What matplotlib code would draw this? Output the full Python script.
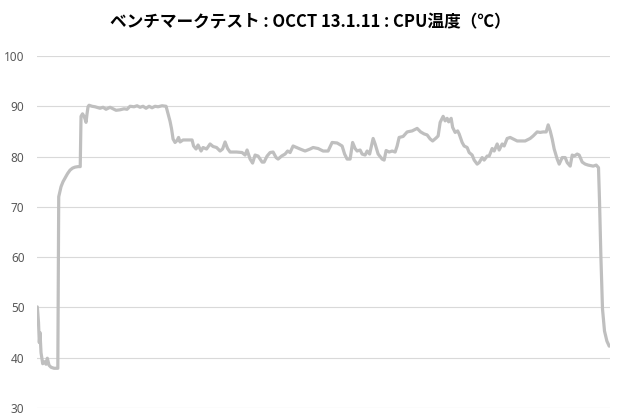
import matplotlib
matplotlib.use('Agg')
import matplotlib.pyplot as plt

# 経過時間（任意単位）と CPU 温度（℃）
elapsed = [
    0.3, 1.5, 2.3, 3.0, 4.0, 5.7, 7.5, 9.0, 10.3, 12.0,
    14.0, 17.0, 20.8, 21.7, 24.0, 26.0, 28.0, 30.5, 33.0, 35.5,
    38.0, 41.0, 43.2, 44.0, 45.5, 47.0, 48.0, 49.0, 50.0, 51.0,
    52, 55, 58, 63, 66, 69, 73, 76, 79, 83,
    87, 90, 93, 97, 100, 103, 106, 109, 112, 115,
    118, 121, 125, 129, 131, 133, 134.5, 136, 138, 140,
    141.5, 143, 146, 155, 156.5, 159, 161, 164, 166, 169.5,
    173, 176, 179.5, 183, 185.5, 188, 190.5, 193, 199.5, 205,
    208, 210, 213, 215.5, 218, 221, 225, 227, 230, 233,
    236, 239, 241, 244.5, 248, 250.5, 253, 256, 259.5, 263,
    268, 273, 276, 281, 286, 291, 295, 300, 305, 307.5,
    310, 313, 315.5, 318, 320, 323, 325, 328, 330, 332.5,
    336, 338, 341, 345, 347, 349, 352, 355, 358, 360,
    362, 366, 370, 375, 377, 380, 383.5, 387, 390, 393,
    395.5, 399, 401, 403, 406, 408, 410, 411.5, 414, 415.5,
    418, 420.5, 422, 425, 427, 430, 432, 435, 437, 440,
    442, 445, 447, 450, 452, 455, 457, 460, 462, 465,
    467, 470, 473, 476, 480, 483, 488, 493, 496, 500,
    503, 506, 509, 511, 513, 515, 517, 520, 522, 525,
    528, 530, 533, 535, 537, 540, 542, 545, 548, 551,
    556, 559, 561.3, 562.3, 563.7, 565.3, 567.3, 569.7, 572,
]
cpu_temp = [
    50.1, 47.0, 43.0, 45.0, 41.0, 38.8, 39.2, 38.7, 39.9, 38.5,
    38.1, 37.9, 37.9, 72.0, 74.0, 75.0, 75.7, 76.6, 77.3, 77.7,
    77.9, 78.0, 78.0, 88.0, 88.5, 88.0, 87.5, 86.8, 88.5, 89.9,
    90.2, 90.0, 89.9, 89.6, 89.8, 89.4, 89.8, 89.5, 89.2, 89.3,
    89.5, 89.4, 90.0, 89.9, 90.1, 89.8, 90.0, 89.6, 90.0, 89.7,
    90.0, 89.9, 90.1, 90.0, 88.5, 87.0, 85.5, 83.5, 82.8, 83.2,
    83.8, 82.9, 83.3, 83.3, 82.1, 81.5, 82.3, 81.1, 81.8, 81.5,
    82.5, 82.0, 81.8, 81.1, 81.5, 82.9, 81.6, 80.9, 80.9, 80.8,
    80.3, 81.3, 79.5, 78.7, 80.3, 80.1, 78.9, 78.9, 80.1, 80.8,
    80.9, 79.8, 79.5, 80.1, 80.5, 81.1, 80.8, 82.1, 81.8, 81.5,
    81.1, 81.5, 81.8, 81.6, 81.1, 81.1, 82.8, 82.7, 82.1, 80.5,
    79.5, 79.5, 82.8, 81.6, 81.1, 81.3, 80.5, 80.3, 81.1, 80.5,
    83.6, 82.5, 80.5, 79.5, 79.3, 81.2, 80.9, 81.1, 80.9, 82.1,
    83.8, 84.0, 84.9, 85.1, 85.3, 85.6, 84.9, 84.5, 84.3, 83.5,
    83.1, 83.7, 84.1, 86.8, 88.0, 87.1, 87.6, 86.9, 87.6, 85.8,
    84.8, 85.1, 84.5, 82.8, 82.1, 81.8, 80.8, 80.3, 79.3, 78.5,
    78.8, 79.8, 79.3, 80.1, 80.1, 81.6, 81.1, 82.5, 81.3, 82.5,
    82.1, 83.6, 83.8, 83.5, 83.1, 83.1, 83.1, 83.6, 84.1, 84.9,
    84.8, 84.9, 84.9, 86.3, 85.1, 83.5, 81.5, 79.5, 78.5, 79.8,
    79.8, 78.8, 78.1, 80.3, 80.1, 80.5, 80.3, 78.9, 78.5, 78.3,
    78.1, 78.3, 77.8, 71.3, 60.0, 49.7, 45.3, 43.3, 42.3,
]
y_ticks = [30, 40, 50, 60, 70, 80, 90, 100]

title = 'ベンチマークテスト : OCCT 13.1.11 : CPU温度（℃）'

fig = plt.figure(figsize=(6.2, 4.2), dpi=100)
ax = fig.add_axes([0.0597, 0.0286, 0.9245, 0.8381])

ax.plot(elapsed, cpu_temp, color='#bfbfbf', linewidth=2.3,
        solid_joinstyle='round', solid_capstyle='round', zorder=3)

ax.set_xlim(0, 573)
ax.set_ylim(30, 100)
ax.set_yticks(y_ticks)
ax.set_xticks([])
ax.grid(axis='y', color='#d9d9d9', linewidth=0.8)
ax.set_axisbelow(True)
for side in ['top', 'right', 'left', 'bottom']:
    ax.spines[side].set_visible(False)
ax.tick_params(axis='y', length=0, pad=9, labelsize=8.5, labelcolor='#595959')
for lbl in ax.get_yticklabels():
    lbl.set_family(['Noto Sans', 'DejaVu Sans'])

fig.text(0.5, 0.946, title, ha='center', va='center', fontsize=12,
         fontweight='bold', color='#000000',
         family=['Noto Sans CJK JP', 'DejaVu Sans'])

fig.savefig('out.png', dpi=100, facecolor='white')
